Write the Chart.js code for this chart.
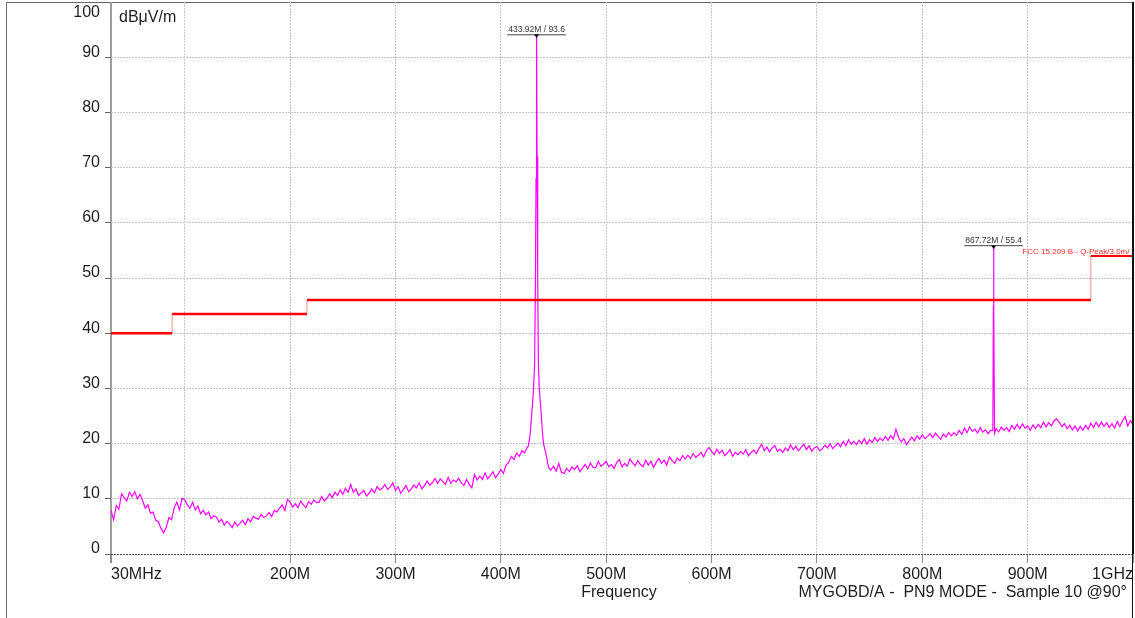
<!DOCTYPE html>
<html>
<head>
<meta charset="utf-8">
<script src="https://cdn.jsdelivr.net/npm/chart.js@4.4.0/dist/chart.umd.min.js"></script>
<style>
  html, body { margin: 0; padding: 0; background: #fff; }
  canvas { display: block; }
</style>
</head>
<body>
<canvas id="emiChart" width="1135" height="618"></canvas>
<script>
// sweep of the receiver: 30 MHz .. 1 GHz, one reading every 2.5 MHz
const sweepStartMHz = 30;
const sweepStepMHz = 2.5;
// null where the carrier / harmonic traces below take over
const floorLevels = [
  7.9, 6.2, 8.8, 8.1,
  10.9, 10.2, 9.6, 11.2,
  10.4, 11.3, 10.0, 10.8,
  9.7, 8.3, 8.9, 7.4,
  7.6, 6.1, 5.8, 4.6,
  3.8, 4.9, 6.6, 6.2,
  8.4, 9.4, 8.0, 10.1,
  9.8, 8.9, 8.3, 9.4,
  8.0, 8.7, 7.3, 7.9,
  7.1, 7.6, 6.4, 6.9,
  6.7, 5.8, 6.3, 5.2,
  5.9, 5.4, 4.8, 5.8,
  5.1, 5.6, 6.1, 5.3,
  6.4, 5.8, 6.8, 6.5,
  6.3, 7.2, 6.6, 6.9,
  7.5, 6.8, 7.9, 7.6,
  8.3, 8.9, 7.9, 9.9,
  9.4, 8.5, 9.1, 8.4,
  9.6, 8.9, 8.4, 9.5,
  9.0, 9.8, 9.3, 9.4,
  10.4, 9.6, 10.1, 10.9,
  10.2, 11.2, 10.6, 11.6,
  10.8, 11.9, 11.2, 12.6,
  11.2, 11.8, 10.6, 11.1,
  11.5, 10.5, 11.0, 11.8,
  11.1, 12.2, 11.6, 11.9,
  12.6, 11.7, 12.1, 12.9,
  11.5, 12.2, 11.0, 11.7,
  12.4, 11.3, 11.8, 12.5,
  12.0, 12.9, 11.8, 12.4,
  13.2, 12.5, 12.9, 13.7,
  12.8, 13.6, 13.1, 12.6,
  13.9, 12.8, 13.4, 13.1,
  13.7, 12.9, 12.4, 13.5,
  12.6, 12.0, 14.4, 13.4,
  14.1, 13.5, 14.7, 13.6,
  14.2, 14.9, 13.8, 14.5,
  15.3, 14.6, 16.1, 16.6,
  17.7, 17.1, 18.3, 17.7,
  18.7, 18.3, 19.3, null,
  null, null, null, null,
  null, null, null, 15.2,
  15.9, 15.0, 16.4, 14.8,
  14.6, 15.5, 14.9, 15.8,
  15.3, 16.0, 14.9, 15.6,
  16.2, 15.4, 16.5, 15.7,
  15.6, 16.8, 15.9, 16.3,
  16.8, 15.8, 16.2, 15.5,
  16.6, 17.1, 15.8, 16.4,
  15.9, 17.2, 16.5, 16.0,
  16.9, 16.2, 15.8, 17.0,
  16.1, 16.8, 15.7, 16.6,
  17.3, 16.4, 17.0, 16.1,
  17.6, 16.9, 16.4, 17.4,
  16.9, 17.8, 17.2, 17.9,
  17.3, 18.2, 17.5, 17.9,
  18.4, 17.6, 18.7, 19.3,
  18.6, 18.0, 19.0, 18.2,
  18.8, 17.8, 18.3, 18.9,
  17.7, 18.4, 18.0, 18.6,
  18.1, 18.9, 17.8, 18.4,
  18.8, 18.2, 19.1, 19.9,
  18.7, 19.4, 18.5, 19.2,
  19.6, 18.6, 19.0, 18.4,
  19.2, 18.7, 19.8, 18.9,
  19.5, 18.7, 19.3, 19.9,
  18.9, 19.6, 18.6, 19.2,
  19.5, 18.7, 19.0, 19.7,
  19.2, 20.0, 19.1, 19.6,
  20.1, 19.4, 20.4, 19.6,
  20.7, 19.9, 20.4, 19.8,
  20.6, 20.0, 20.9, 19.9,
  20.7, 20.2, 21.1, 20.4,
  21.0, 20.5, 21.3, 20.6,
  21.5, 20.8, 22.6, 21.1,
  20.3, 20.9, 19.8, 20.5,
  21.2, 20.5, 21.4, 20.8,
  21.6, 20.9, 21.3, 21.8,
  21.1, 21.9, 21.3, 20.8,
  21.7, 21.2, 22.0, 21.4,
  22.0, 21.5, 22.4, 21.7,
  22.8, 22.0, 23.0, 22.2,
  22.6, 21.9, 22.9, 22.1,
  22.5, 21.8, 22.4, null,
  22.7, 22.1, 23.0, 22.4,
  22.9, 22.2, 23.3, 22.6,
  23.5, 22.7, 23.6, 22.8,
  23.2, 22.4, 23.4, 22.7,
  23.5, 22.9, 23.9, 23.0,
  23.8, 23.2, 24.1, 24.5,
  23.9, 23.1, 23.6, 22.7,
  23.3, 22.5, 23.2, 22.3,
  23.1, 22.4, 23.3, 22.6,
  23.7, 22.9, 23.9, 23.0,
  23.9, 23.1, 23.8, 22.9,
  23.6, 22.8, 24.0, 23.1,
  24.1, 24.9, 23.2, 24.2,
  23.4
];

// 433.92 MHz carrier
const carrierFreqs  = [426, 427, 428, 429, 430, 431, 432, 432.8, 433.4, 433.92, 434.4, 435, 435.6, 436.5, 437.5, 438.5, 439.5, 440.5, 441.5, 442.5, 443.5, 444.5, 445.5];
const carrierLevels = [19.5, 20.6, 22.0, 24.5, 27.0, 29.8, 34.0, 48.0, 68.0, 93.6, 72.0, 50.0, 35.0, 30.0, 27.5, 25.0, 22.0, 20.0, 19.2, 18.4, 17.5, 16.4, 15.6];

// 2nd harmonic
const harmonicFreqs  = [866.2, 867.0, 867.5, 867.72, 868.0, 868.6];
const harmonicLevels = [22.4, 23.5, 45.0, 55.4, 43.0, 21.9];

// FCC 15.209 class B limit, quasi-peak @ 3 m
const limitEdges  = [30, 88, 216, 960, 1000];
const limitLevels = [40, 43.5, 46, 54];

const markerFreqs  = [433.92, 867.72];
const markerLevels = [93.6, 55.4];

const xTickValues = [30, 100, 200, 300, 400, 500, 600, 700, 800, 900, 1000];
const xTickLabels = ['30MHz', '', '200M', '300M', '400M', '500M', '600M', '700M', '800M', '900M', '1GHz'];

const FONT = '"Liberation Sans", Arial, sans-serif';
const INK = '#1e1e1e';

// build the trace
let trace = [];
floorLevels.forEach((v, i) => {
  if (v !== null) trace.push({ x: sweepStartMHz + i * sweepStepMHz, y: v });
});
carrierFreqs.forEach((f, i) => trace.push({ x: f, y: carrierLevels[i] }));
harmonicFreqs.forEach((f, i) => trace.push({ x: f, y: harmonicLevels[i] }));
trace.sort((a, b) => a.x - b.x);

// stepped limit line
let limit = [];
limitLevels.forEach((lv, i) => {
  limit.push({ x: limitEdges[i], y: lv });
  limit.push({ x: limitEdges[i + 1], y: lv });
});

const decorPlugin = {
  id: 'decor',
  beforeDraw(chart) {
    const c = chart.ctx, a = chart.chartArea;
    c.save();
    c.lineWidth = 1;
    c.strokeStyle = '#6a6a6a';
    c.beginPath();
    c.moveTo(6.5, chart.height);
    c.lineTo(6.5, a.top + 0.5);
    c.lineTo(a.right, a.top + 0.5);
    c.stroke();
    c.restore();
  },
  afterDatasetsDraw(chart) {
    const c = chart.ctx, a = chart.chartArea;
    const xs = chart.scales.x, ys = chart.scales.y;
    c.save();

    // limit caption, clipped to the plot
    c.save();
    c.beginPath();
    c.rect(a.left, a.top, a.right - a.left, a.bottom - a.top);
    c.clip();
    c.font = '8px ' + FONT;
    c.fillStyle = '#ff2a2a';
    c.textAlign = 'right';
    c.textBaseline = 'alphabetic';
    c.fillText('FCC 15.209 B - Q-Peak/3.0m/', a.right - 3.5, ys.getPixelForValue(limitLevels[3]) - 2);
    c.restore();

    // peak markers
    markerFreqs.forEach((f, i) => {
      const px = xs.getPixelForValue(f);
      const py = ys.getPixelForValue(markerLevels[i]);
      const txt = f.toFixed(2) + 'M / ' + markerLevels[i].toFixed(1);
      c.font = '8.5px ' + FONT;
      const w = c.measureText(txt).width;
      c.fillStyle = '#333';
      c.textAlign = 'center';
      c.textBaseline = 'middle';
      c.fillText(txt, px, py - 8);
      c.strokeStyle = '#444';
      c.lineWidth = 1;
      c.beginPath();
      c.moveTo(px - w / 2 - 1, py - 2.5);
      c.lineTo(px + w / 2 + 1, py - 2.5);
      c.stroke();
      c.fillStyle = '#111';
      c.beginPath();
      c.moveTo(px - 2.5, py - 3);
      c.lineTo(px + 2.5, py - 3);
      c.lineTo(px, py + 1);
      c.closePath();
      c.fill();
    });
    c.restore();
  },
  afterDraw(chart) {
    const c = chart.ctx, a = chart.chartArea;
    c.save();
    // right frame edge
    c.strokeStyle = '#111';
    c.lineWidth = 1;
    c.beginPath();
    c.moveTo(a.right - 0.5, a.top);
    c.lineTo(a.right - 0.5, chart.height);
    c.stroke();

    c.fillStyle = INK;
    c.font = '16px ' + FONT;
    c.textBaseline = 'middle';
    c.textAlign = 'right';
    c.fillText('100', a.left - 11, a.top + 10.5);
    c.textAlign = 'left';
    c.fillText('dB\u03bcV/m', a.left + 8, a.top + 16);
    c.textAlign = 'center';
    c.fillText('Frequency', (a.left + a.right) / 2 - 3, 593);
    c.textAlign = 'right';
    c.fillText('MYGOBD/A -  PN9 MODE -  Sample 10 @90\u00b0', a.right - 6, 593);
    c.restore();
  }
};

const lightGrid = '#c4c4c4';

new Chart(document.getElementById('emiChart'), {
  type: 'line',
  data: {
    datasets: [
      {
        label: 'Trace',
        data: trace,
        borderColor: '#ff00ff',
        borderWidth: 1.2,
        pointRadius: 0,
        tension: 0,
        fill: false,
        order: 2
      },
      {
        label: 'Limit',
        data: limit,
        borderColor: '#ff0000',
        borderWidth: 2.5,
        pointRadius: 0,
        tension: 0,
        fill: false,
        order: 1,
        segment: {
          borderWidth: ctx => ctx.p0.parsed.x === ctx.p1.parsed.x ? 1 : (ctx.p0.parsed.y === limitLevels[3] ? 2 : 2.5),
          borderColor: ctx => ctx.p0.parsed.x === ctx.p1.parsed.x ? 'rgba(255,0,0,0.45)' : '#ff0000'
        }
      }
    ]
  },
  options: {
    responsive: false,
    animation: false,
    events: [],
    layout: { padding: { top: 2, right: 2, left: 0, bottom: 0 } },
    plugins: {
      legend: { display: false },
      tooltip: { enabled: false }
    },
    scales: {
      x: {
        type: 'linear',
        min: 30,
        max: 1000,
        afterBuildTicks: s => { s.ticks = xTickValues.map(v => ({ value: v })); },
        afterFit: s => { s.height = 64; s.paddingLeft = 0; s.paddingRight = 0; },
        border: {
          display: false,
          dash: ctx => (ctx.tick && (ctx.tick.value === 30 || ctx.tick.value === 1000)) ? [] : [2, 1]
        },
        grid: {
          color: ctx => {
            const v = ctx.tick && ctx.tick.value;
            if (v === 30) return '#9c9c9c';
            if (v === 1000) return '#111';
            return lightGrid;
          },
          lineWidth: ctx => (ctx.tick && ctx.tick.value === 30) ? 2 : 1,
          tickColor: ctx => {
            const v = ctx.tick && ctx.tick.value;
            if (v === 100) return 'rgba(0,0,0,0)';
            return '#8a8a8a';
          },
          tickLength: 9
        },
        ticks: {
          autoSkip: false,
          maxRotation: 0,
          align: 'inner',
          padding: 2,
          color: INK,
          font: { family: FONT, size: 16 },
          callback: (v, i) => xTickLabels[i]
        }
      },
      y: {
        type: 'linear',
        min: 0,
        max: 100,
        afterFit: s => { s.width = 111; s.paddingTop = 0; s.paddingBottom = 0; },
        border: {
          display: false,
          dash: ctx => (ctx.tick && ctx.tick.value === 100) ? [] : [2, 1]
        },
        grid: {
          color: ctx => {
            const v = ctx.tick && ctx.tick.value;
            if (v === 0) return '#4a4a4a';
            if (v === 100) return 'rgba(0,0,0,0)';
            return lightGrid;
          },
          tickColor: ctx => (ctx.tick && ctx.tick.value === 100) ? 'rgba(0,0,0,0)' : '#666',
          tickLength: 6
        },
        ticks: {
          stepSize: 10,
          padding: 5,
          labelOffset: -5,
          color: INK,
          font: { family: FONT, size: 16 },
          callback: v => v === 100 ? '' : String(v)
        }
      }
    }
  },
  plugins: [decorPlugin]
});
</script>
</body>
</html>
